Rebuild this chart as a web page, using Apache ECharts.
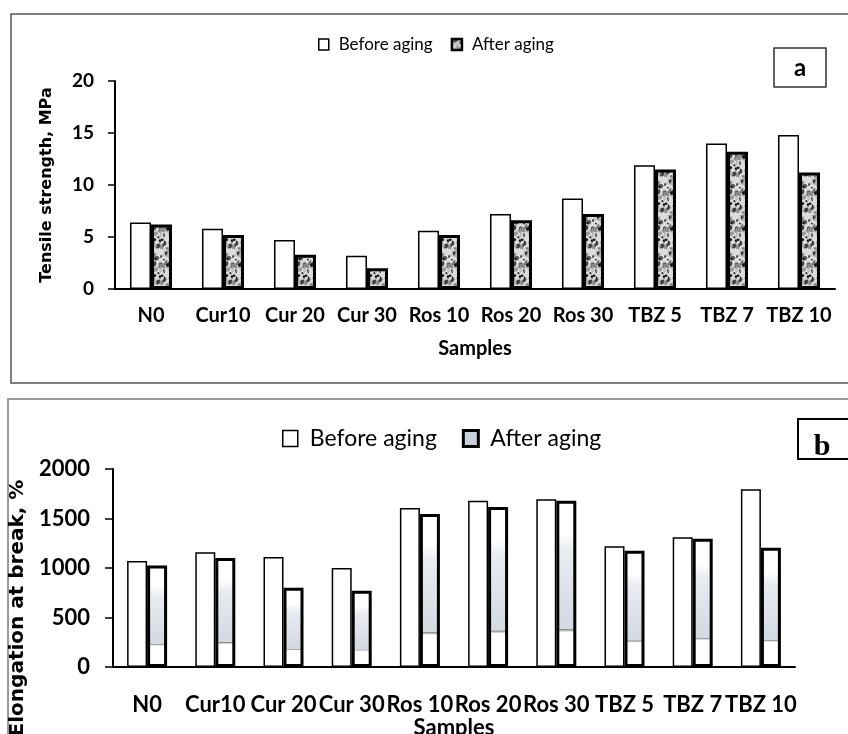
<!DOCTYPE html>
<html><head><meta charset="utf-8">
<script src="https://cdn.jsdelivr.net/npm/echarts@6/dist/echarts.min.js"></script>
<style>html,body{margin:0;padding:0;background:#fff}#c{width:848px;height:734px}</style>
</head><body><div id="c"></div>
<script>
const categories = ['N0','Cur10','Cur 20','Cur 30','Ros 10','Ros 20','Ros 30','TBZ 5','TBZ 7','TBZ 10'];
const tensileBefore = [6.4,5.8,4.7,3.2,5.6,7.2,8.7,11.9,14.0,14.8];
const tensileAfter  = [6.2,5.2,3.3,2.0,5.2,6.6,7.2,11.5,13.2,11.2];
const elongBefore = [1070,1160,1110,1000,1605,1680,1695,1220,1310,1795];
const elongAfter  = [1025,1100,800,770,1545,1615,1680,1175,1295,1205];
const seriesNames = ['Before aging','After aging'];
const tensileTicks = {min:0, max:20, interval:5};
const elongTicks = {min:0, max:2000, interval:500};

// texture for "After aging" bars in panel a (deterministic, styling only)
function hash(n){ const s = Math.sin(n*127.1+311.7)*43758.5453; return s - Math.floor(s); }
function makeTexture(){
  const c = document.createElement('canvas'); c.width = 36; c.height = 36;
  const g = c.getContext('2d');
  g.fillStyle = '#dcdcdc'; g.fillRect(0,0,36,36);
  for (let i=0;i<90;i++){
    const x = hash(i)*36, y = hash(i+100)*36, rx = 1 + hash(i+200)*2.6, ry = 0.7 + hash(i+250)*1.6;
    const v = Math.round(60 + hash(i+300)*140);
    g.fillStyle = 'rgb('+v+','+v+','+v+')';
    for (const dx of [-36,0,36]) for (const dy of [-36,0,36]) {
      g.beginPath(); g.ellipse(x+dx,y+dy,rx,ry,hash(i+400)*3.14,0,Math.PI*2); g.fill();
    }
  }
  for (let i=0;i<24;i++){
    const x = hash(i+500)*36, y = hash(i+600)*36, r = 0.8 + hash(i+700)*0.9;
    g.fillStyle = '#111';
    g.beginPath(); g.arc(x,y,r,0,Math.PI*2); g.fill();
  }
  return c;
}
const texture = {image: makeTexture(), repeat: 'repeat'};
const insetFill = {type:'linear', x:0, y:0, x2:0, y2:1, global:false, colorStops:[
  {offset:0, color:'#ffffff'}, {offset:0.2, color:'#ffffff'},
  {offset:0.3, color:'#e9ecf1'}, {offset:0.77, color:'#d3d9e1'},
  {offset:0.775, color:'#8a8a8a'}, {offset:0.79, color:'#ffffff'},
  {offset:1, color:'#ffffff'}]};

const chart = echarts.init(document.getElementById('c'), null, {renderer:'canvas'});
const SANS = 'Lato';
const WIDE = 'DejaVu Sans';
const plain = v => String(v);

chart.setOption({
  animation: false,
  backgroundColor: '#fff',
  graphic: [
    {type:'rect', shape:{x:11, y:14, width:850, height:369}, style:{fill:'none', stroke:'#555', lineWidth:1.5}, z:-1},
    {type:'rect', shape:{x:8, y:399, width:850, height:400}, style:{fill:'none', stroke:'#999', lineWidth:2}, z:-1},
    {type:'rect', shape:{x:774, y:48, width:52, height:39}, style:{fill:'#fff', stroke:'#333', lineWidth:1.5}},
    {type:'text', x:800, y:68, style:{text:'a', fill:'#000', font:'bold 24px Lato', align:'center', verticalAlign:'middle'}},
    {type:'rect', shape:{x:798, y:419, width:60, height:40}, style:{fill:'#fff', stroke:'#000', lineWidth:2}},
    {type:'text', x:822, y:447, style:{text:'b', fill:'#000', font:'bold 30px "Liberation Serif"', align:'center', verticalAlign:'middle'}}
  ],
  legend: [
    {left:313, top:31, itemWidth:10, itemHeight:11, itemGap:18, icon:'rect',
     textStyle:{fontFamily:SANS, fontSize:17, color:'#000', padding:[0,0,0,5]},
     selectedMode:false,
     data:[
       {name:seriesNames[0], itemStyle:{color:'#fff', borderColor:'#000', borderWidth:1.5}},
       {name:seriesNames[1], itemStyle:{color:texture, borderColor:'#000', borderWidth:2.5}}
     ]},
    {left:277, top:422, itemWidth:15, itemHeight:16, itemGap:25, icon:'rect',
     textStyle:{fontFamily:SANS, fontSize:23, color:'#000', padding:[0,0,0,7]},
     selectedMode:false,
     data:[
       {name:seriesNames[0], itemStyle:{color:'#fff', borderColor:'#000', borderWidth:1.5}},
       {name:seriesNames[1], itemStyle:{color:'#c9cfd8', borderColor:'#000', borderWidth:3}}
     ]}
  ],
  grid: [
    {left:115, right:13, top:81, bottom:445, containLabel:false, outerBoundsMode:'none'},
    {left:113, right:53, top:469, bottom:67, containLabel:false, outerBoundsMode:'none'}
  ],
  xAxis: [
    {gridIndex:0, type:'category', data:categories,
     axisLine:{lineStyle:{color:'#000', width:2}},
     axisTick:{length:8, lineStyle:{color:'#000', width:1.5}},
     axisLabel:{interval:0, margin:17, fontFamily:SANS, fontWeight:'bold', fontSize:20, color:'#000'},
     name:'Samples', nameLocation:'middle', nameGap:50,
     nameTextStyle:{fontFamily:SANS, fontWeight:'bold', fontSize:20, color:'#000'}},
    {gridIndex:1, type:'category', data:categories,
     axisLine:{lineStyle:{color:'#000', width:2}},
     axisTick:{length:8, lineStyle:{color:'#000', width:1.5}},
     axisLabel:{interval:0, margin:27, fontFamily:SANS, fontWeight:'bold', fontSize:22, color:'#000', hideOverlap:false},
     name:'Samples', nameLocation:'middle', nameGap:46,
     nameTextStyle:{fontFamily:SANS, fontWeight:'bold', fontSize:22, color:'#000'}}
  ],
  yAxis: [
    {gridIndex:0, type:'value', min:tensileTicks.min, max:tensileTicks.max, interval:tensileTicks.interval,
     splitLine:{show:false},
     axisLine:{show:true, lineStyle:{color:'#000', width:2}},
     axisTick:{show:true, length:7, lineStyle:{color:'#000', width:1.5}},
     axisLabel:{margin:21, fontFamily:SANS, fontWeight:'bold', fontSize:19, color:'#000', formatter:plain},
     name:'Tensile strength, MPa', nameLocation:'middle', nameGap:60,
     nameTextStyle:{fontFamily:WIDE, fontWeight:'bold', fontSize:16, color:'#000'}},
    {gridIndex:1, type:'value', min:elongTicks.min, max:elongTicks.max, interval:elongTicks.interval,
     splitLine:{show:false},
     axisLine:{show:true, lineStyle:{color:'#000', width:2}},
     axisTick:{show:true, length:8, lineStyle:{color:'#000', width:1.5}},
     axisLabel:{margin:23, fontFamily:SANS, fontWeight:'bold', fontSize:22, color:'#000', formatter:plain},
     name:'Elongation at break, %', nameLocation:'middle', nameGap:74,
     nameTextStyle:{fontFamily:WIDE, fontWeight:'bold', fontSize:20, color:'#000', padding:[0,80,0,0]}}
  ],
  series: [
    {name:seriesNames[0], type:'bar', xAxisIndex:0, yAxisIndex:0, data:tensileBefore,
     barWidth:21, barGap:'0%', itemStyle:{color:'#fff', borderColor:'#000', borderWidth:1.5}},
    {name:seriesNames[1], type:'bar', xAxisIndex:0, yAxisIndex:0, data:tensileAfter,
     barWidth:21, barGap:'0%', itemStyle:{color:texture, borderColor:'#000', borderWidth:3}},
    {name:seriesNames[0], type:'bar', xAxisIndex:1, yAxisIndex:1, data:elongBefore,
     barWidth:20, barGap:'0%', itemStyle:{color:'#fff', borderColor:'#000', borderWidth:1.5}},
    {name:seriesNames[1], type:'bar', xAxisIndex:1, yAxisIndex:1, data:elongAfter,
     barWidth:20, barGap:'0%', itemStyle:{color:insetFill, borderColor:'#000', borderWidth:3}}
  ]
});
</script></body></html>
